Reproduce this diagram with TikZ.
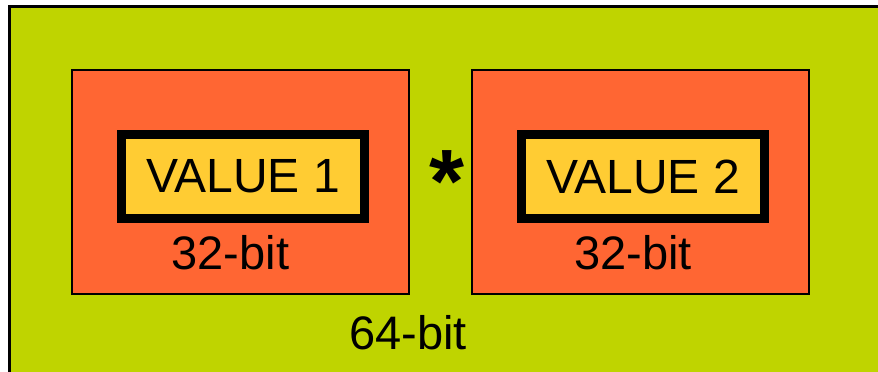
\documentclass[tikz,border=0pt]{standalone}
\usepackage{fontspec}
\setmainfont{Liberation Sans}
\definecolor{limegreen}{RGB}{191,212,0}
\definecolor{regorange}{RGB}{255,102,51}
\definecolor{valyellow}{RGB}{255,204,51}

\begin{document}
\begin{tikzpicture}[x=1pt, y=-1pt,
    regbox/.style={draw=black, line width=1.5pt, fill=regorange, minimum width=337pt, minimum height=224pt, inner sep=0pt},
    valbox/.style={draw=black, line width=9pt, fill=valyellow, minimum width=243pt, minimum height=84pt, inner sep=0pt, font=\fontsize{48}{58}\selectfont},
    bitlabel/.style={anchor=base, inner sep=0pt, font=\fontsize{47}{56}\selectfont}]
    \clip (0,0) rectangle (878,372);

    % --- 64-bit result (background) ---
    \draw[line width=3pt, fill=limegreen] (9,6) rectangle (900,400);
    \node[bitlabel] (widelbl) at (408,349) {64-bit};

    % --- First operand ---
    \node[regbox] (reg1) at (240.5,182) {};
    \node[valbox] (val1) at (243,176.5) {VALUE 1};
    \node[bitlabel] (lbl1) at (230.5,269) {32-bit};

    % --- Second operand ---
    \node[regbox] (reg2) at (640.5,182) {};
    \node[valbox] (val2) at (643,176.5) {VALUE 2};
    \node[bitlabel] (lbl2) at (633,269) {32-bit};

    % --- Multiplication sign ---
    \node[anchor=base, inner sep=0pt, font=\bfseries\fontsize{90}{100}\selectfont] (times) at (447,212) {*};
\end{tikzpicture}
\end{document}
